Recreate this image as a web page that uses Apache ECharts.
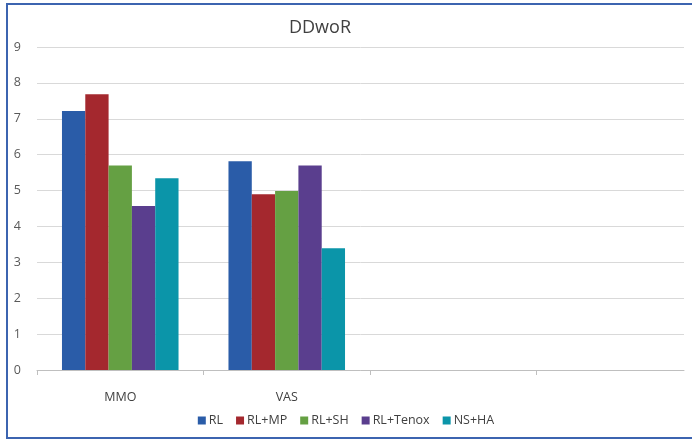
<!DOCTYPE html>
<html>
<head>
<meta charset="utf-8">
<script src="https://cdn.jsdelivr.net/npm/echarts@6/dist/echarts.min.js"></script>
<style>
  html, body { margin: 0; padding: 0; background: #fff; }
  #chart { width: 692px; height: 441px; }
</style>
</head>
<body>
<div id="chart"></div>
<script>
// data
const categories = ['MMO', 'VAS', '', '']
const seriesNames = ['RL', 'RL+MP', 'RL+SH', 'RL+Tenox', 'NS+HA']
const rl = [7.22, 5.82]
const rlMp = [7.68, 4.9]
const rlSh = [5.7, 4.99]
const rlTenox = [4.57, 5.7]
const nsHa = [5.34, 3.39]
const yTicks = [0, 1, 2, 3, 4, 5, 6, 7, 8, 9]

const colors = ['#2a5ca8', '#a4282e', '#65a043', '#5a3e8e', '#0b95a9']
const values = [rl, rlMp, rlSh, rlTenox, nsHa]

const chart = echarts.init(document.getElementById('chart'))

const option = {
  animation: false,
  backgroundColor: '#fff',
  title: {
    text: 'DDwoR',
    left: 284,
    top: 14,
    textStyle: { fontFamily: 'Open Sans', fontSize: 18, fontWeight: 'normal', color: '#404040' },
  },
  legend: {
    data: seriesNames,
    bottom: 9,
    left: 'center',
    icon: 'rect',
    itemWidth: 8,
    itemHeight: 8,
    itemGap: 13,
    textStyle: { fontFamily: 'Open Sans', fontSize: 12.5, color: '#404040', padding: [0, 0, 0, -2] },
  },
  graphic: [
    {
      type: 'rect',
      silent: true,
      shape: { x: 7, y: 4, width: 720, height: 434 },
      style: { fill: null, stroke: '#3c64b0', lineWidth: 2 },
      z: 100,
    },
  ],
  grid: [
    { left: 37, right: 8, top: 47, bottom: 71, outerBoundsMode: 'none' },
    { left: 37, width: 666, top: 47, bottom: 71, outerBoundsMode: 'none' },
  ],
  xAxis: [
    {
      gridIndex: 0,
      type: 'category',
      data: categories,
      axisLine: { show: true, lineStyle: { color: '#bfbfbf', width: 1 } },
      axisTick: { show: false },
      axisLabel: { show: false },
    },
    {
      gridIndex: 1,
      type: 'category',
      data: categories,
      axisLine: { show: false },
      axisTick: { show: true, length: 5, lineStyle: { color: '#bfbfbf' } },
      axisLabel: { fontFamily: 'Open Sans', fontSize: 12.5, color: '#404040', margin: 21 },
    },
  ],
  yAxis: [
    {
      gridIndex: 0,
      type: 'value',
      min: 0,
      max: 9,
      interval: 1,
      axisLine: { show: false },
      axisTick: { show: false },
      axisLabel: {
        fontFamily: 'Open Sans',
        fontSize: 12.5,
        color: '#595959',
        margin: 16,
        formatter: (v) => (yTicks.includes(v) ? String(v) : ''),
      },
      splitLine: { lineStyle: { color: '#d9d9d9', width: 1 } },
    },
    {
      gridIndex: 1,
      type: 'value',
      min: 0,
      max: 9,
      show: false,
    },
  ],
  series: seriesNames.map((name, i) => ({
    name: name,
    type: 'bar',
    xAxisIndex: 1,
    yAxisIndex: 1,
    data: values[i],
    barGap: '0%',
    barCategoryGap: '30%',
    itemStyle: { color: colors[i] },
  })),
}

chart.setOption(option)
</script>
</body>
</html>
